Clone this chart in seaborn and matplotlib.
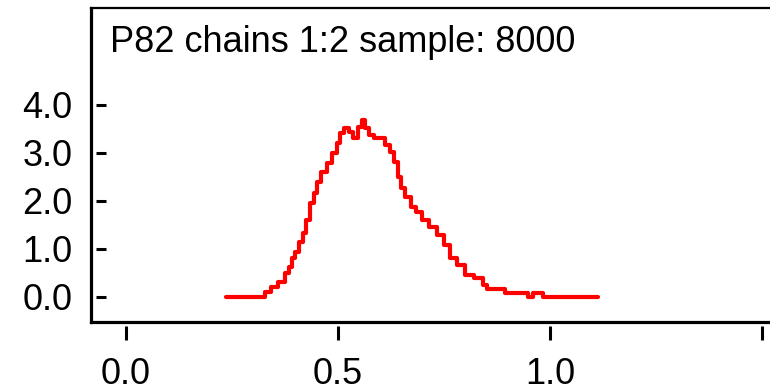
import matplotlib
matplotlib.use('Agg')
import matplotlib.pyplot as plt
import pandas as pd
import seaborn as sns

# density of P82 (x value, density)
x_vals = [0.236, 0.323, 0.335, 0.351, 0.368, 0.380, 0.387, 0.394, 0.403, 0.415,
          0.422, 0.429, 0.439, 0.446, 0.455, 0.465, 0.481, 0.493, 0.500, 0.509,
          0.521, 0.533, 0.540, 0.552, 0.561, 0.568, 0.580, 0.592, 0.604, 0.616,
          0.627, 0.639, 0.646, 0.653, 0.665, 0.677, 0.693, 0.705, 0.724, 0.741,
          0.757, 0.771, 0.792, 0.807, 0.835, 0.847, 0.858, 0.882, 0.906, 0.941,
          0.953, 0.969, 0.981, 0.988, 1.113]
dens = [0.00, 0.00, 0.10, 0.21, 0.31, 0.50, 0.63, 0.81, 0.94, 1.15,
        1.33, 1.60, 1.96, 2.17, 2.40, 2.60, 2.79, 3.00, 3.21, 3.42,
        3.52, 3.44, 3.31, 3.54, 3.69, 3.52, 3.37, 3.31, 3.31, 3.17,
        3.02, 2.81, 2.50, 2.27, 2.08, 1.88, 1.77, 1.60, 1.46, 1.29,
        1.08, 0.81, 0.67, 0.46, 0.40, 0.25, 0.17, 0.17, 0.08, 0.08,
        0.00, 0.08, 0.08, 0.00, 0.00]

x_ticks = [0.0, 0.5, 1.0, 1.5]
x_labels = ['0.0', '0.5', '1.0', '']
y_ticks = [0.0, 1.0, 2.0, 3.0, 4.0]
y_labels = ['0.0', '1.0', '2.0', '3.0', '4.0']
title = 'P82 chains 1:2 sample: 8000'

df = pd.DataFrame({'x': x_vals, 'density': dens})

sns.set_style('white')
plt.rcParams['font.family'] = ['Liberation Sans', 'DejaVu Sans']
plt.rcParams['text.color'] = 'black'
plt.rcParams['xtick.color'] = 'black'
plt.rcParams['ytick.color'] = 'black'

W, H = 770, 392
fig = plt.figure(figsize=(W / 100, H / 100), dpi=100)

# frame (left, top and bottom lines)
frame = fig.add_axes([91 / W, (H - 322) / H, (780 - 91) / W, (322 - 8) / H])
frame.set_xticks([])
frame.set_yticks([])
for side in ['left', 'bottom']:
    frame.spines[side].set_linewidth(2.3)
    frame.spines[side].set_color('black')
frame.spines['top'].set_linewidth(1.6)
frame.spines['top'].set_color('black')
frame.spines['right'].set_visible(False)

# data axes, inset a little so ticks stand apart from the frame
ax = fig.add_axes([96 / W, (H - 326) / H, (780 - 96) / W, (326 - 8) / H])
ax.patch.set_alpha(0)
sns.lineplot(data=df, x='x', y='density', ax=ax, color='#ff0000',
             linewidth=3.0, drawstyle='steps-mid')
for s in ax.spines.values():
    s.set_visible(False)

ax.set_xlim((96 - 126) / 424, (780 - 126) / 424)
ax.set_ylim((297 - 326) / 48, (297 - 8) / 48)
ax.set_xticks(x_ticks)
ax.set_xticklabels(x_labels)
ax.set_yticks(y_ticks)
ax.set_yticklabels(y_labels)
ax.tick_params(axis='y', direction='in', length=7.2, width=2.2, pad=17,
               labelsize=26, left=True, colors='black')
ax.tick_params(axis='x', direction='out', length=10, width=2.2, pad=12,
               labelsize=26, bottom=True, colors='black')
ax.set_xlabel('')
ax.set_ylabel('')

fig.text(110 / W, (H - 52) / H, title, fontsize=26, va='baseline', ha='left',
         color='black')

fig.savefig('out.png', dpi=100)
